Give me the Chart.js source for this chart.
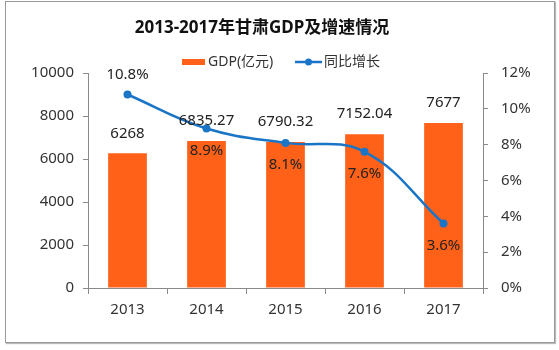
<!DOCTYPE html>
<html><head><meta charset="utf-8">
<script src="https://cdn.jsdelivr.net/npm/chart.js@4"></script>
<style>
html,body{margin:0;padding:0;background:#fff}
#wrap{position:relative;width:559px;height:350px;overflow:hidden}
#frame{position:absolute;left:5px;top:1px;width:548px;height:340px;border:1px solid #999;box-shadow:1px 1px 1px #bbb;pointer-events:none}
canvas{position:absolute;left:0;top:0}
</style></head>
<body><div id="wrap"><canvas id="c" width="559" height="350"></canvas><div id="frame"></div></div>
<script>
const categories = ['2013', '2014', '2015', '2016', '2017'];
const gdp = [6268, 6835.27, 6790.32, 7152.04, 7677];
const growth = [10.8, 8.9, 8.1, 7.6, 3.6];
const gdpLabels = ['6268', '6835.27', '6790.32', '7152.04', '7677'];
const growthLabels = ['10.8%', '8.9%', '8.1%', '7.6%', '3.6%'];
const titleText = '2013-2017年甘肃GDP及增速情况';
const legendNames = ['GDP(亿元)', '同比增长'];

const FONT = '"Noto Sans", "Noto Sans CJK SC", sans-serif';
const ORANGE = '#FF6119';
const BLUE = '#1A75C7';
const AXIS = '#8a8a8a';
const TXT = '#333';

const deco = {
  id: 'deco',
  afterDatasetsDraw(chart) {
    const {ctx, scales: {x, y, y1}} = chart;
    ctx.save();
    ctx.fillStyle = '#222';
    ctx.font = '15px ' + FONT;
    ctx.textAlign = 'center';
    ctx.textBaseline = 'middle';
    gdp.forEach((v, i) => {
      ctx.fillText(gdpLabels[i], x.getPixelForValue(i), y.getPixelForValue(v) - 20);
    });
    growth.forEach((v, i) => {
      const py = y1.getPixelForValue(v);
      ctx.fillText(growthLabels[i], x.getPixelForValue(i), i === 0 ? py - 20 : py + 22);
    });
    // title
    ctx.fillStyle = '#111';
    ctx.font = 'bold 17px ' + FONT;
    ctx.fillText(titleText, 262, 28);
    // legend
    ctx.font = '14px ' + FONT;
    ctx.textAlign = 'left';
    ctx.fillStyle = ORANGE;
    ctx.fillRect(182, 59, 23, 6);
    ctx.fillStyle = TXT;
    ctx.fillText(legendNames[0], 208, 62);
    ctx.strokeStyle = BLUE;
    ctx.lineWidth = 2.5;
    ctx.beginPath(); ctx.moveTo(295, 62); ctx.lineTo(322, 62); ctx.stroke();
    ctx.fillStyle = BLUE;
    ctx.beginPath(); ctx.arc(308.5, 62, 3.5, 0, Math.PI * 2); ctx.fill();
    ctx.fillStyle = TXT;
    ctx.fillText(legendNames[1], 324, 62);
    ctx.restore();
  }
};

new Chart(document.getElementById('c'), {
  data: {
    labels: categories,
    datasets: [
      {type: 'line', label: legendNames[1], data: growth, yAxisID: 'y1', order: 0,
       borderColor: BLUE, backgroundColor: BLUE, borderWidth: 2.5, tension: 0.4,
       pointRadius: 4, pointBackgroundColor: BLUE, pointBorderWidth: 0},
      {type: 'bar', label: legendNames[0], data: gdp, yAxisID: 'y', order: 1,
       backgroundColor: ORANGE, categoryPercentage: 1, barPercentage: 0.49}
    ]
  },
  options: {
    responsive: false,
    animation: false,
    layout: {padding: {left: 20, right: 20, top: 73, bottom: 32}},
    plugins: {legend: {display: false}, title: {display: false}, tooltip: {enabled: false}},
    scales: {
      x: {
        offset: true,
        grid: {display: true, offset: true, drawOnChartArea: false, drawTicks: true, tickLength: 6, color: AXIS},
        border: {color: AXIS, width: 1},
        ticks: {color: TXT, font: {size: 15, family: FONT}, padding: 7},
        afterFit(s) { s.height = 30; }
      },
      y: {
        position: 'left', min: 0, max: 10000,
        grid: {display: true, drawOnChartArea: false, drawTicks: true, tickLength: 5, color: AXIS},
        border: {color: AXIS, width: 1},
        ticks: {stepSize: 2000, color: TXT, font: {size: 15, family: FONT}, padding: 9,
                callback: v => String(v)},
        afterFit(s) { s.width = 68; }
      },
      y1: {
        position: 'right', min: 0, max: 12,
        grid: {display: true, drawOnChartArea: false, drawTicks: true, tickLength: 5, color: AXIS},
        border: {color: AXIS, width: 1},
        ticks: {stepSize: 2, color: TXT, font: {size: 15, family: FONT}, padding: 13,
                callback: v => v + '%'},
        afterFit(s) { s.width = 56; }
      }
    }
  },
  plugins: [deco]
});
</script>
</body></html>
